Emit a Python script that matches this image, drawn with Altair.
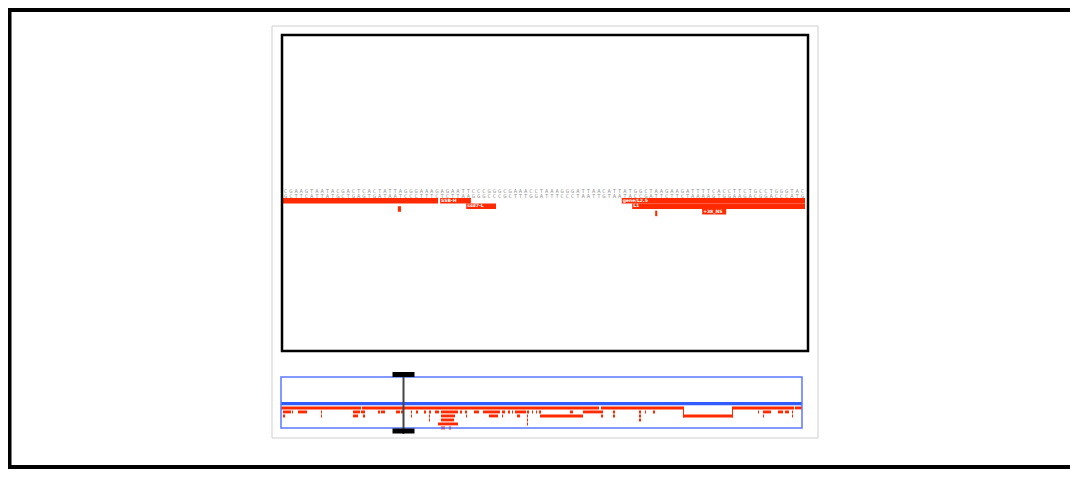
import altair as alt
import pandas as pd

# ---------------- data ----------------
SEQ_FWD = "CGAAGTAATACGACTCACTATTAGGGAAAGAGAATTCCCGGGCGAAACCTAAAGGGATTAACATTATGGCTAAGAAGATTTTCACCTTCTGCCTGGGTAC"
SEQ_REV = "GCTTCATTATGCTGAGTGATAATCCCTTTCTCTTAAGGGCCCGCTTTGGATTTCCCTAATTGTAATACCGATTCTTCTAAAAGTGGAAGACGGACCCATG"

VIEW_DOMAIN = [12200, 12300]     # bp shown in the detail view
GENOME_DOMAIN = [0, 52100]       # bp shown in the overview

# detail-view features
feat_start = [12200, 12230.1, 12235.1, 12222.0, 12264.9, 12266.9, 12271.3, 12280.3]
feat_end = [12229.7, 12236.0, 12240.8, 12222.6, 12300, 12300, 12271.7, 12284.9]
feat_row = [0, 0, 1, 1.5, 0, 1, 2.3, 2]
feat_label = ["", "SSB-H", "ssd7-L", "", "gene/L2.5", "L1", "", "+38_NS"]

# overview tracks: (start, end) per row
ov_row0 = [(0, 8000), (8100, 31800), (32000, 40200), (45200, 51300), (51400, 52100)]
ov_row1 = [(200, 1000), (1100, 1200), (1700, 2600), (4000, 4100), (7200, 7900), (8000, 8400),
           (9700, 9900), (10000, 10400), (11500, 11900), (12000, 12300), (13000, 13100),
           (13500, 13700), (14300, 14500), (14800, 15000), (15400, 15800), (16000, 17700),
           (17900, 18100), (18400, 18600), (19300, 19800), (20200, 21900), (22100, 22400),
           (22700, 22900), (23100, 23200), (23400, 24500), (24600, 24800), (25100, 25200),
           (25500, 25600), (25800, 26000), (28900, 29200), (30200, 32200), (33200, 33400),
           (35800, 36000), (36400, 36500), (37200, 37400), (47700, 47800), (48200, 49000),
           (49700, 50200), (50400, 50800), (51100, 51200)]
ov_row2 = [(200, 400), (4000, 4100), (7200, 7700), (8200, 8400), (13000, 13100), (14800, 14900),
           (16000, 17400), (18500, 18600), (20800, 21700), (22100, 22200), (23600, 23900),
           (24600, 24700), (25900, 30200), (32000, 32200), (33200, 33400), (35800, 36000),
           (40200, 45200), (48200, 48300), (51100, 51200)]
ov_row3 = [(14800, 14900), (16000, 17300), (24600, 24700), (35800, 36000)]
ov_row4 = [(15700, 17700), (24600, 24700)]
ov_row5 = [(16000, 16400), (16800, 17000)]
ov_links = [(40200, 40300), (45100, 45200)]

# ---------------- tables ----------------
seq_df = pd.DataFrame({
    "pos": [VIEW_DOMAIN[0] + i + 0.5 for i in range(len(SEQ_FWD))] * 2,
    "strand": [0] * len(SEQ_FWD) + [1] * len(SEQ_REV),
    "base": list(SEQ_FWD) + list(SEQ_REV),
})
feat_df = pd.DataFrame({"start": feat_start, "end": feat_end, "row": feat_row, "label": feat_label})
ov_rows = []
for r, lst in enumerate([ov_row0, ov_row1, ov_row2, ov_row3, ov_row4, ov_row5]):
    for s, e in lst:
        ov_rows.append({"start": s, "end": e, "row": r})
ov_df = pd.DataFrame(ov_rows)
link_df = pd.DataFrame({"start": [s for s, _ in ov_links], "end": [e for _, e in ov_links]})
brush_df = pd.DataFrame({"start": [VIEW_DOMAIN[0]], "end": [VIEW_DOMAIN[1]]})
genome_df = pd.DataFrame({"start": [GENOME_DOMAIN[0]], "end": [GENOME_DOMAIN[1]]})
dummy = pd.DataFrame({"k": [0]})

RED = "#ff2a00"
BLUE = "#2f5bff"


def P(r):
    """window pixel -> chart pixel (page has an 8px margin)"""
    return r - 8


# ---------------- scales ----------------
x_main = alt.Scale(domain=VIEW_DOMAIN, range=[P(283), P(805)], nice=False, zero=False)
y_main = alt.Scale(domain=[0, 1], range=[P(198), P(203.5)], nice=False, zero=False)
y_seq = alt.Scale(domain=[0, 1], range=[P(191), P(196)], nice=False, zero=False)
x_ov = alt.Scale(domain=GENOME_DOMAIN, range=[P(281), P(802)], nice=False, zero=False)
y_ov = alt.Scale(domain=[0, 1], range=[P(406.5), P(410.5)], nice=False, zero=False)


def frame(x0, x1, y0, y1, color, w):
    return alt.Chart(dummy).mark_rect(fill="white", fillOpacity=0, stroke=color, strokeWidth=w).encode(
        x=alt.value(x0), x2=alt.value(x1), y=alt.value(y0), y2=alt.value(y1))


W, H = 1062, 461
outer = frame(1.5, W + 20, 2, H - 2, "black", 4)
panel = frame(P(272), P(818), P(26), P(438), "#cfcfcf", 1)
main_box = frame(P(282), P(808), P(35), P(351), "black", 2.5)
ov_box = frame(P(281), P(802), P(377), P(428), "#5a78ff", 1.5)

seq_text = alt.Chart(seq_df).mark_text(
    font="DejaVu Sans Mono", fontSize=5.5, color="#9a9a9a", align="center", baseline="middle"
).encode(
    x=alt.X("pos:Q", scale=x_main, axis=None),
    y=alt.Y("strand:Q", scale=y_seq, axis=None),
    text="base:N",
)

main_bars = alt.Chart(feat_df).transform_calculate(row_end="datum.row + 1").mark_rect(color=RED).encode(
    x=alt.X("start:Q", scale=x_main, axis=None),
    x2="end:Q",
    y=alt.Y("row:Q", scale=y_main, axis=None),
    y2="row_end:Q",
)

main_labels = alt.Chart(feat_df).transform_filter("datum.label != ''").transform_calculate(
    mid="datum.row + 0.5").mark_text(
    font="DejaVu Sans", fontSize=4.5, fontWeight="bold", color="white", align="left", baseline="middle", dx=1
).encode(
    x=alt.X("start:Q", scale=x_main, axis=None),
    y=alt.Y("mid:Q", scale=y_main, axis=None),
    text="label:N",
)

blue_line = alt.Chart(genome_df).mark_rect(color=BLUE).encode(
    x=alt.X("start:Q", scale=x_ov, axis=None),
    x2="end:Q",
    y=alt.value(P(402)),
    y2=alt.value(P(405.2)),
)

ov_bars = alt.Chart(ov_df).transform_calculate(row_end="datum.row + 0.72").mark_rect(color=RED).encode(
    x=alt.X("start:Q", scale=x_ov, axis=None),
    x2="end:Q",
    y=alt.Y("row:Q", scale=y_ov, axis=None),
    y2="row_end:Q",
)

ov_links_l = alt.Chart(link_df).transform_calculate(r0="0", r1="2.72").mark_rect(color=RED).encode(
    x=alt.X("start:Q", scale=x_ov, axis=None),
    x2="end:Q",
    y=alt.Y("r0:Q", scale=y_ov, axis=None),
    y2="r1:Q",
)

brush_line = alt.Chart(brush_df).transform_calculate(c="(datum.start + datum.end) / 2").mark_rule(
    color="#444444", strokeWidth=2
).encode(
    x=alt.X("c:Q", scale=x_ov, axis=None),
    y=alt.value(P(372)),
    y2=alt.value(P(434)),
)


def handle(yc):
    return alt.Chart(brush_df).transform_calculate(c="(datum.start + datum.end) / 2").mark_rule(
        color="black", strokeWidth=5, xOffset=-11, x2Offset=11, strokeCap="butt"
    ).encode(
        x=alt.X("c:Q", scale=x_ov, axis=None),
        x2="c:Q",
        y=alt.value(yc),
    )


chart = alt.layer(
    outer, panel, seq_text, main_bars, main_labels, main_box,
    blue_line, ov_bars, ov_links_l, ov_box, brush_line, handle(P(374.5)), handle(P(431)),
).resolve_scale(x="independent", y="independent").properties(
    width=W, height=H, autosize="none",
    padding={"left": 0, "top": 0, "right": 0, "bottom": 0},
    background="white",
).configure_view(strokeWidth=0)

chart.save("out.html", embed_options={"renderer": "svg", "actions": False})
